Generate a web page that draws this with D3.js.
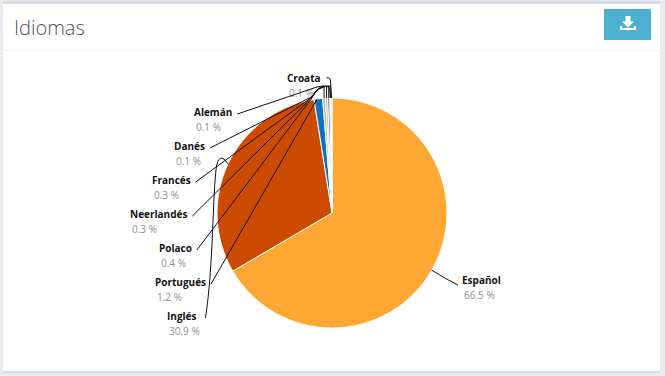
<!DOCTYPE html>
<html><head><meta charset="utf-8">
<script src="https://cdn.jsdelivr.net/npm/d3@7/dist/d3.min.js"></script>
<style>
html,body{margin:0;padding:0;background:#e9eaec;}
svg{display:block;font-family:"Open Sans",sans-serif;}
</style></head><body><div id="chart"></div>
<script>
const languages = ["Español","Inglés","Portugués","Polaco","Neerlandés","Francés","Danés","Alemán","Croata"];
const shares = [66.5,30.9,1.2,0.4,0.3,0.3,0.1,0.1,0.1];
const sliceColors = ["#ffa733","#cc4b00","#0f72bb","#8fce8f","#e8a0a0","#7b4fb0","#f2b6c6","#c8c8c8","#e0d0a0"];
const labelLeft = [462,167,155,159,130,152,174,194,287];
const labelRow = [280,316,282,248,214,180,146,112,78];
const W=665,H=376,cx=332,cy=213,R=115;
const svg=d3.select("#chart").append("svg").attr("width",W).attr("height",H);
svg.append("rect").attr("x",3).attr("y",1).attr("width",657).attr("height",372).attr("fill","#d6dbe1");
svg.append("rect").attr("x",3).attr("y",4).attr("width",657).attr("height",367).attr("fill","#fff");
svg.append("rect").attr("x",3).attr("y",50).attr("width",657).attr("height",1).attr("fill","#f1f2f3");
svg.append("text").attr("x",14).attr("y",35).attr("font-size",20).attr("font-weight",300).attr("fill","#4a5460").text("Idiomas");
svg.append("rect").attr("x",604).attr("y",9).attr("width",47).attr("height",31).attr("fill","#4cb1cf");
const icon=svg.append("g").attr("fill","#fff");
icon.append("path").attr("d","M625.500 16h5v5.500h3.500l-6 6-6-6h3.500z");
icon.append("path").attr("d","M620 26h2v2h12v-2h2v4h-16z");
const pie=d3.pie().sort(null).value(d=>d)(shares);
const arc=d3.arc().innerRadius(0).outerRadius(R);
const g=svg.append("g").attr("transform",`translate(${cx},${cy})`);
g.selectAll("path").data(pie).join("path").attr("d",arc)
 .attr("fill",(d,i)=>sliceColors[i]).attr("stroke","#fff").attr("stroke-width",1);
const pt=(a,r)=>[cx+r*Math.sin(a),cy-r*Math.cos(a)];
const labels=svg.append("g");
const rightEdge=[];
languages.forEach((n,i)=>{
  const t=labels.append("text").attr("x",labelLeft[i]).attr("y",labelRow[i]+4).attr("font-size",10).attr("font-weight",700).attr("fill","#111").text(n);
  rightEdge[i]=labelLeft[i]+t.node().getComputedTextLength();
  labels.append("text").attr("x",labelLeft[i]+2).attr("y",labelRow[i]+19).attr("font-size",10).attr("fill","#8a8f96").text(shares[i].toFixed(1)+" %");
});
pie.forEach((d,i)=>{
  const a=(d.startAngle+d.endAngle)/2, e=pt(a,R);
  const x0=rightEdge[i]+5, y0=labelRow[i];
  let p;
  if(i===0){ p=`M${e[0]},${e[1]}L${e[0]+15},${e[1]+9}L${labelLeft[i]-4},${y0+5}`; }
  else if(i===1){ p=`M${x0+4},${y0+2}C${x0+12},${y0-50} ${x0+11},${y0-120} ${x0+15},${y0-150}Q${x0+18},${y0-165} ${e[0]},${e[1]}`; }
  else if(i===2){ p=`M${x0},${y0+2}L${e[0]-1},${e[1]}`; }
  else if(i===8){ p=`M${x0+1},${y0}Q${e[0]-1},${y0-2} ${e[0]-1},${y0+5}L${e[0]},${e[1]}`; }
  else if(i===7){ p=`M${x0},${y0+2}L${e[0]-14},${87}Q${e[0]-1},${84} ${e[0]-1},${90}L${e[0]},${e[1]}`; }
  else { p=`M${x0},${y0+2}L${312},${99-i*0.4}Q${318},${86} ${e[0]},${86}L${e[0]},${e[1]}`; }
  svg.append("path").attr("d",p).attr("fill","none").attr("stroke","#111").attr("stroke-width",1);
});
</script></body></html>
